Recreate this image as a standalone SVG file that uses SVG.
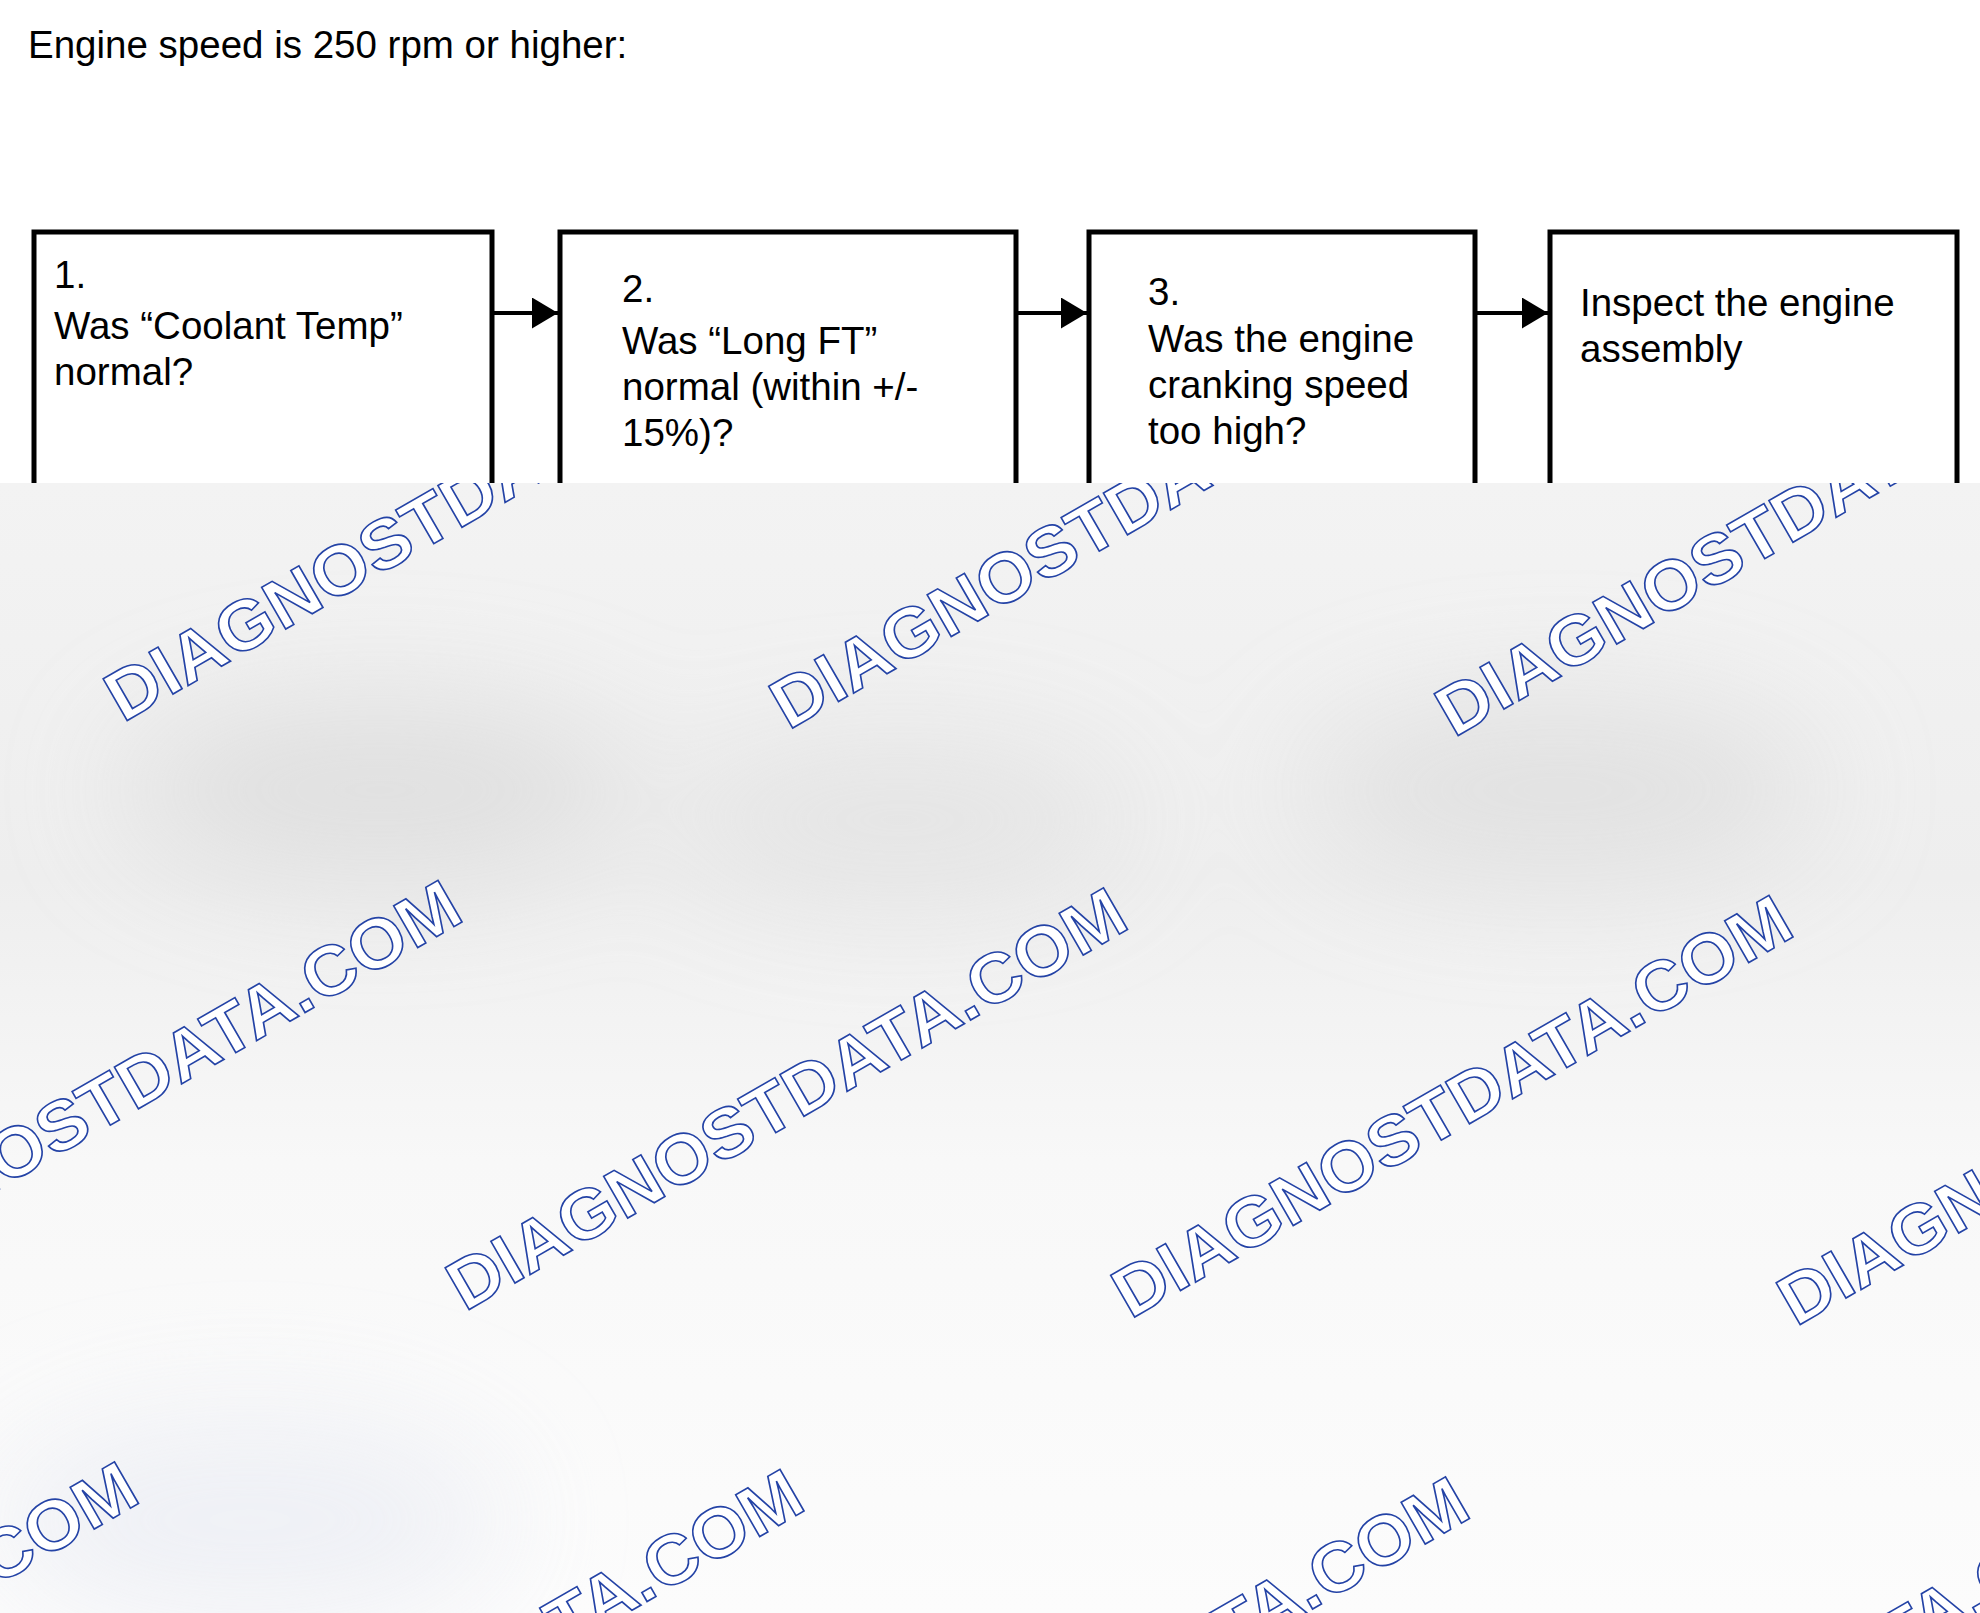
<svg xmlns="http://www.w3.org/2000/svg" width="1980" height="1613" viewBox="0 0 1980 1613">
<style>
.t{font-family:"Liberation Sans",Arial,sans-serif;font-size:38.5px;fill:#000}
.box{fill:#fff;stroke:#000;stroke-width:5}
.conn{stroke:#000;stroke-width:4;fill:none}
.wm{font-family:"Liberation Sans",Arial,sans-serif;font-weight:bold;font-size:70px;fill:#fff;stroke:#2443a6;stroke-width:1.6}
</style>
<defs>
<marker id="ah" markerUnits="userSpaceOnUse" markerWidth="27" markerHeight="32" refX="26" refY="15.5" orient="auto">
<path d="M0,0 L26,15.5 L0,31 Z" fill="#000"/>
</marker>
<linearGradient id="ov" x1="0" y1="0" x2="0" y2="1">
<stop offset="0" stop-color="#f3f3f3"/>
<stop offset="0.35" stop-color="#eeeeee"/>
<stop offset="0.6" stop-color="#f8f8f8"/>
<stop offset="1" stop-color="#fcfcfc"/>
</linearGradient>
<filter id="blur" x="-50%" y="-50%" width="200%" height="200%"><feGaussianBlur stdDeviation="60"/></filter>
<clipPath id="ovclip"><rect x="0" y="483" width="1980" height="1130"/></clipPath>
<text id="wmt" class="wm" x="0" y="0" textLength="770" lengthAdjust="spacingAndGlyphs">DIAGNOSTDATA.COM</text>
</defs>
<rect x="0" y="0" width="1980" height="1613" fill="#fff"/>
<text id="title" class="t" x="28" y="58">Engine speed is 250 rpm or higher:</text>
<g id="node1"><rect class="box" x="34" y="232" width="458" height="400"/>
<text class="t" x="54" y="288">1.</text><text class="t" x="54" y="339">Was “Coolant Temp”</text><text class="t" x="54" y="385">normal?</text></g>
<g id="node2"><rect class="box" x="560" y="232" width="456" height="400"/>
<text class="t" x="622" y="302">2.</text><text class="t" x="622" y="354">Was “Long FT”</text><text class="t" x="622" y="400">normal (within +/-</text><text class="t" x="622" y="446">15%)?</text></g>
<g id="node3"><rect class="box" x="1089" y="232" width="386" height="400"/>
<text class="t" x="1148" y="305">3.</text><text class="t" x="1148" y="352">Was the engine</text><text class="t" x="1148" y="398">cranking speed</text><text class="t" x="1148" y="444">too high?</text></g>
<g id="node4"><rect class="box" x="1550" y="232" width="407" height="400"/>
<text class="t" x="1580" y="316">Inspect the engine</text><text class="t" x="1580" y="362">assembly</text></g>
<g id="connectors">
<line class="conn" x1="494" y1="313" x2="558" y2="313" marker-end="url(#ah)"/>
<line class="conn" x1="1018" y1="313" x2="1087" y2="313" marker-end="url(#ah)"/>
<line class="conn" x1="1477" y1="313" x2="1548" y2="313" marker-end="url(#ah)"/>
</g>
<g id="overlay">
<rect x="0" y="483" width="1980" height="1130" fill="url(#ov)"/>
<g clip-path="url(#ovclip)" filter="url(#blur)" opacity="0.8">
<ellipse cx="380" cy="790" rx="260" ry="90" fill="#dcdcdc"/>
<ellipse cx="900" cy="820" rx="230" ry="80" fill="#e2e2e2"/>
<ellipse cx="1560" cy="790" rx="260" ry="90" fill="#dedede"/>
<ellipse cx="250" cy="1520" rx="260" ry="110" fill="#eceef4"/>
</g>
<g clip-path="url(#ovclip)">
<use href="#wmt" transform="translate(123,723) rotate(-30)"/>
<use href="#wmt" transform="translate(788.5,730.5) rotate(-30)"/>
<use href="#wmt" transform="translate(1454,738) rotate(-30)"/>
<use href="#wmt" transform="translate(-200.5,1304.5) rotate(-30)"/>
<use href="#wmt" transform="translate(465,1312) rotate(-30)"/>
<use href="#wmt" transform="translate(1130.5,1319.5) rotate(-30)"/>
<use href="#wmt" transform="translate(1796,1327) rotate(-30)"/>
<use href="#wmt" transform="translate(-524,1886) rotate(-30)"/>
<use href="#wmt" transform="translate(141.5,1893.5) rotate(-30)"/>
<use href="#wmt" transform="translate(807,1901) rotate(-30)"/>
<use href="#wmt" transform="translate(1472.5,1908.5) rotate(-30)"/>
</g>
</g>
</svg>
